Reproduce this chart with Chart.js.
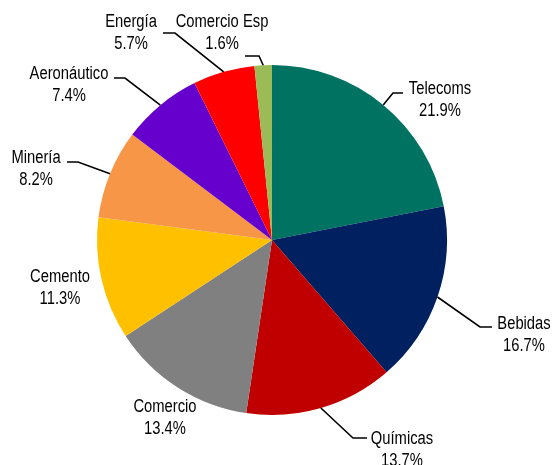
<!DOCTYPE html>
<html>
<head>
<meta charset="utf-8">
<script src="https://cdn.jsdelivr.net/npm/chart.js@4.4.0/dist/chart.umd.min.js"></script>
<style>
html,body{margin:0;padding:0;background:#fff;}
#wrap{width:552px;height:465px;}
</style>
</head>
<body>
<div id="wrap"><canvas id="c" width="552" height="465"></canvas></div>
<script>
const categories = ["Telecoms","Bebidas","Químicas","Comercio","Cemento","Minería","Aeronáutico","Energía","Comercio Esp"];
const values = [21.9,16.7,13.7,13.4,11.3,8.2,7.4,5.7,1.6];
const colors = ["#007262","#002060","#C00000","#808080","#FFC000","#F79646","#6600CC","#FF0000","#9BBB59"];

// label layout relative to pie centre (px): text centre, leader attach point, elbow point (null = no leader)
const labelLayout = [
  {t:[168,-140], a:[131,-147], e:[121,-147]},
  {t:[252,95],   a:[220,87],   e:[208,87]},
  {t:[130,210],  a:[95,198],   e:[81,198]},
  {t:[-107,178], a:null, e:null},
  {t:[-212,48],  a:null, e:null},
  {t:[-236,-71], a:[-205,-78], e:[-194,-78]},
  {t:[-203,-155],a:[-158,-162],e:[-147,-162]},
  {t:[-141,-207],a:[-109,-207],e:[-97,-207]},
  {t:[-50,-207], a:[-27,-184], e:[-13,-184]}
];

const labelPlugin = {
  id:'pieLabels',
  afterDatasetsDraw(chart){
    const ctx = chart.ctx;
    const meta = chart.getDatasetMeta(0);
    ctx.save();
    ctx.font = '18px "Liberation Sans", Arial, sans-serif';
    ctx.fillStyle = '#000';
    ctx.textAlign = 'center';
    ctx.textBaseline = 'middle';
    meta.data.forEach((arc,i)=>{
      const cx = arc.x, cy = arc.y;
      const mid = (arc.startAngle + arc.endAngle)/2;
      const r = arc.outerRadius;
      const L = labelLayout[i];
      if (L.a){
        ctx.beginPath();
        ctx.strokeStyle = '#000';
        ctx.lineWidth = 1.6;
        ctx.moveTo(cx + r*Math.cos(mid), cy + r*Math.sin(mid));
        ctx.lineTo(cx + L.e[0], cy + L.e[1]);
        ctx.lineTo(cx + L.a[0], cy + L.a[1]);
        ctx.stroke();
      }
      const tx = cx + L.t[0], ty = cy + L.t[1];
      ctx.save();
      ctx.translate(tx, ty);
      ctx.scale(0.82, 1);
      ctx.fillText(categories[i], 0, -11);
      ctx.fillText(values[i].toFixed(1) + '%', 0, 11);
      ctx.restore();
    });
    ctx.restore();
  }
};

new Chart(document.getElementById('c'), {
  type:'pie',
  data:{labels:categories, datasets:[{data:values, backgroundColor:colors, borderWidth:0}]},
  options:{
    responsive:false,
    animation:false,
    layout:{padding:{left:97,right:105,top:65,bottom:50}},
    plugins:{legend:{display:false}, tooltip:{enabled:false}}
  },
  plugins:[labelPlugin]
});
</script>
</body>
</html>
